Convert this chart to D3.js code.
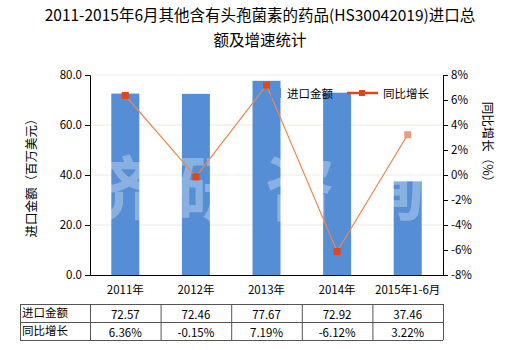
<!DOCTYPE html>
<meta charset="utf-8">
<style>
body { margin: 0; background: #fff; }
svg text { font-family: "Noto Sans CJK SC", "Microsoft YaHei", sans-serif; fill: #000; }
.axis path, .axis line { stroke: #000; }
.grid line { stroke: #ecebdf; }
</style>
<body>
<svg width="520" height="350"></svg>
<script src="https://d3js.org/d3.v7.min.js"></script>
<script>
var categories = ["2011年", "2012年", "2013年", "2014年", "2015年1-6月"];
var amount = [72.57, 72.46, 77.67, 72.92, 37.46];
var growth = [6.36, -0.15, 7.19, -6.12, 3.22];
var leftTicks = [0, 20, 40, 60, 80];
var rightTicks = [-8, -6, -4, -2, 0, 2, 4, 6, 8];

var svg = d3.select("svg");
var pLeft = 90, pRight = 443, pTop = 75, pBottom = 275;

var x = d3.scaleBand().domain(categories).range([pLeft, pRight]);
var y = d3.scaleLinear().domain([0, 80]).range([pBottom, pTop]);
var y2 = d3.scaleLinear().domain([-8, 8]).range([pBottom, pTop]);

// title
svg.append("text").attr("x", 260).attr("y", 21).attr("text-anchor", "middle")
  .style("font-size", "15.5px").text("2011-2015年6月其他含有头孢菌素的药品(HS30042019)进口总");
svg.append("text").attr("x", 260).attr("y", 46).attr("text-anchor", "middle")
  .style("font-size", "15.5px").text("额及增速统计");

// grid
svg.append("g").attr("class", "grid").selectAll("line")
  .data(leftTicks.slice(1)).enter().append("line")
  .attr("x1", pLeft).attr("x2", pRight)
  .attr("y1", function(d) { return y(d); }).attr("y2", function(d) { return y(d); });

// bars
var bw = 28;
svg.append("g").selectAll("rect")
  .data(amount).enter().append("rect")
  .attr("x", function(d, i) { return x(categories[i]) + x.bandwidth() / 2 - bw / 2; })
  .attr("y", function(d) { return y(d); })
  .attr("width", bw)
  .attr("height", function(d) { return y(0) - y(d); })
  .attr("fill", "#558ed5");

// watermark
svg.append("text").attr("x", 265).attr("y", 215).attr("text-anchor", "middle")
  .style("font-size", "70px").style("font-weight", "bold")
  .style("fill", "#fff").style("opacity", 0.3)
  .attr("letter-spacing", "20").text("济研咨询");

// line
var line = d3.line()
  .x(function(d, i) { return x(categories[i]) + x.bandwidth() / 2; })
  .y(function(d) { return y2(d); });
svg.append("path").datum(growth)
  .attr("d", line).attr("fill", "none")
  .attr("stroke", "#f2854a").attr("stroke-width", 1.2);
svg.append("g").selectAll("rect")
  .data(growth).enter().append("rect")
  .attr("x", function(d, i) { return x(categories[i]) + x.bandwidth() / 2 - 3.5; })
  .attr("y", function(d) { return y2(d) - 3.5; })
  .attr("width", 7).attr("height", 7)
  .attr("fill", function(d, i) { return i == 4 ? "#ee9a84" : "#e0461c"; });

// axes
svg.append("g").attr("class", "axis")
  .attr("transform", "translate(" + pLeft + ",0)")
  .call(d3.axisLeft(y).tickValues(leftTicks).tickFormat(d3.format(".1f")).tickSizeOuter(0).tickSize(5));
svg.append("g").attr("class", "axis")
  .attr("transform", "translate(" + pRight + ",0)")
  .call(d3.axisRight(y2).tickValues(rightTicks).tickFormat(function(d) { return d + "%"; }).tickSizeOuter(0).tickSize(5));
svg.selectAll(".axis text").style("font-size", "11.5px");
svg.append("line").attr("x1", pLeft).attr("x2", pRight)
  .attr("y1", pBottom + 0.5).attr("y2", pBottom + 0.5).attr("stroke", "#000");

// axis titles
svg.append("text").attr("transform", "translate(36,175) rotate(-90)")
  .attr("text-anchor", "middle").style("font-size", "12.5px").text("进口金额（百万美元）");
svg.append("text").attr("transform", "translate(483,145) rotate(90)")
  .attr("text-anchor", "middle").style("font-size", "12.5px").text("同比增长（%）");

// legend
svg.append("rect").attr("x", 271).attr("y", 88).attr("width", 10).attr("height", 10).attr("fill", "#558ed5");
svg.append("text").attr("x", 287).attr("y", 97.5).style("font-size", "11.5px").text("进口金额");
svg.append("line").attr("x1", 347).attr("x2", 378).attr("y1", 93).attr("y2", 93)
  .attr("stroke", "#e0461c").attr("stroke-width", 2.5);
svg.append("rect").attr("x", 359).attr("y", 90).attr("width", 6).attr("height", 6).attr("fill", "#e0461c");
svg.append("text").attr("x", 383).attr("y", 97.5).style("font-size", "11.5px").text("同比增长");

// category labels
svg.append("g").selectAll("text")
  .data(categories).enter().append("text")
  .attr("x", function(d) { return x(d) + x.bandwidth() / 2; })
  .attr("y", 294).attr("text-anchor", "middle").style("font-size", "11.5px")
  .text(function(d) { return d; });

// table
var tLeft = 20, rowTop = [304, 322];
var tbl = svg.append("g");
var rows = [
  { name: "进口金额", vals: amount.map(function(d) { return d.toFixed(2); }) },
  { name: "同比增长", vals: growth.map(function(d) { return d.toFixed(2) + "%"; }) }
];
rows.forEach(function(r, ri) {
  var yy = rowTop[ri];
  tbl.append("text").attr("x", tLeft + 2).attr("y", yy + 13).style("font-size", "11.5px").text(r.name);
  r.vals.forEach(function(v, i) {
    tbl.append("text").attr("x", x(categories[i]) + x.bandwidth() / 2).attr("y", yy + 15)
      .attr("text-anchor", "middle").style("font-size", "11.5px").text(v);
  });
});
[304, 322, 340].forEach(function(yy) {
  tbl.append("line").attr("x1", tLeft).attr("x2", pRight).attr("y1", yy + 0.5).attr("y2", yy + 0.5)
    .attr("stroke", "#555");
});
[tLeft, pLeft].concat(categories.map(function(c) { return x(c) + x.bandwidth(); })).forEach(function(xx) {
  tbl.append("line").attr("x1", xx + 0.5).attr("x2", xx + 0.5).attr("y1", 304).attr("y2", 340)
    .attr("stroke", "#555");
});
</script>
</body>
